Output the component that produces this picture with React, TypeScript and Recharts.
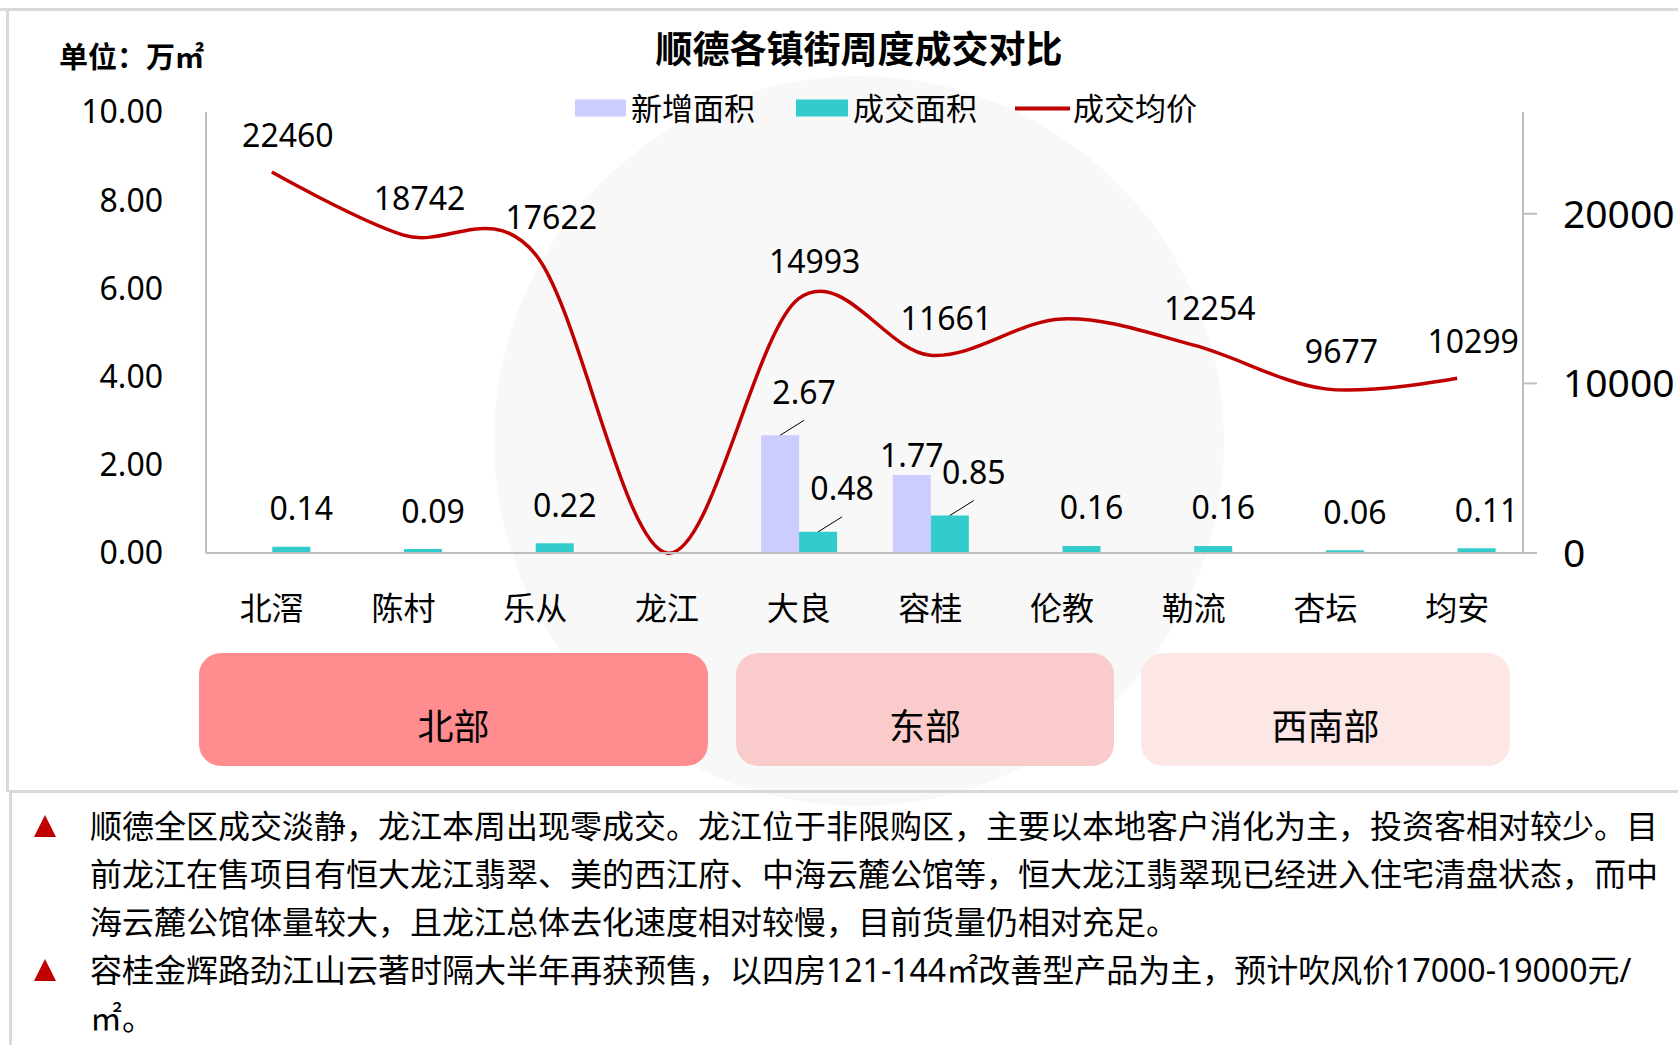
import React from 'react';
import { ComposedChart, Bar, Line, XAxis, YAxis, LabelList } from 'recharts';

const towns = ['北滘', '陈村', '乐从', '龙江', '大良', '容桂', '伦教', '勒流', '杏坛', '均安'];
const newArea = [0, 0, 0, 0, 2.67, 1.77, 0, 0, 0, 0];
const dealArea = [0.14, 0.09, 0.22, 0, 0.48, 0.85, 0.16, 0.16, 0.06, 0.11];
const avgPrice = [22460, 18742, 17622, 0, 14993, 11661, 13800, 12254, 9677, 10299];
const priceLabelled = [true, true, true, false, true, true, false, true, true, true];
const areaTicks = [0, 2, 4, 6, 8, 10];
const priceTicks = [0, 10000, 20000];
const regions = ['北部', '东部', '西南部'];
const notes = [
  [
    '顺德全区成交淡静，龙江本周出现零成交。龙江位于非限购区，主要以本地客户消化为主，投资客相对较少。目',
    '前龙江在售项目有恒大龙江翡翠、美的西江府、中海云麓公馆等，恒大龙江翡翠现已经进入住宅清盘状态，而中',
    '海云麓公馆体量较大，且龙江总体去化速度相对较慢，目前货量仍相对充足。',
  ],
  [
    '容桂金辉路劲江山云著时隔大半年再获预售，以四房121-144㎡改善型产品为主，预计吹风价17000-19000元/',
    '㎡。',
  ],
];

const data = towns.map((name, i) => ({
  name,
  newArea: newArea[i],
  dealArea: dealArea[i],
  price: avgPrice[i],
}));

const FONT = "'Noto Sans', 'Noto Sans CJK SC', sans-serif";

// Excel-style smoothed line (catmull-rom, k = 1/6)
function excelSmooth(context: any) {
  let x0 = NaN, y0 = NaN, x1 = NaN, y1 = NaN, x2 = NaN, y2 = NaN, pt = 0;
  const k = 1 / 6;
  const seg = (x: number, y: number) => {
    context.bezierCurveTo(
      x1 + k * (x2 - x0), y1 + k * (y2 - y0),
      x2 + k * (x1 - x), y2 + k * (y1 - y),
      x2, y2
    );
  };
  return {
    areaStart() {},
    areaEnd() {},
    lineStart() {
      x0 = x1 = x2 = y0 = y1 = y2 = NaN;
      pt = 0;
    },
    lineEnd() {
      if (pt === 2) context.lineTo(x2, y2);
      else if (pt === 3) seg(x1, y1);
    },
    point(x: number, y: number) {
      x = +x; y = +y;
      if (pt === 0) {
        pt = 1;
        context.moveTo(x, y);
      } else if (pt === 1) {
        pt = 2;
        x1 = x; y1 = y;
      } else {
        pt = 3;
        seg(x, y);
      }
      x0 = x1; x1 = x2; x2 = x;
      y0 = y1; y1 = y2; y2 = y;
    },
  };
}

const labelText = { fontSize: 32, fill: '#000', fontFamily: FONT };

function leaderLabel(cx: number, top: number, value: number) {
  return (
    <g>
      <line x1={cx} y1={top} x2={cx + 24} y2={top - 15} stroke="#000" strokeWidth={1} />
      <text x={cx + 24} y={top - 44} textAnchor="middle" dominantBaseline="central" {...labelText}>
        {value.toFixed(2)}
      </text>
    </g>
  );
}

const NewAreaLabel = (props: any) => {
  const { x, y, width, value } = props;
  if (!value) return null;
  const cx = x + width / 2;
  if (value > 2) return leaderLabel(cx, y, value);
  return (
    <text x={cx} y={y - 20} textAnchor="middle" dominantBaseline="central" {...labelText}>
      {value.toFixed(2)}
    </text>
  );
};

const DealAreaLabel = (props: any) => {
  const { x, y, width, value } = props;
  if (!value) return null;
  const cx = x + width / 2;
  if (value > 0.3) return leaderLabel(cx, y, value);
  return (
    <text x={cx + 10} y={y - 39} textAnchor="middle" dominantBaseline="central" {...labelText}>
      {value.toFixed(2)}
    </text>
  );
};

const PriceLabel = (props: any) => {
  const { x, y, value, index } = props;
  if (!priceLabelled[index]) return null;
  return (
    <text x={x + 16} y={y - 38} textAnchor="middle" dominantBaseline="central" {...labelText}>
      {value}
    </text>
  );
};

const TownTick = (props: any) => {
  const { x, y, payload } = props;
  return (
    <text x={x} y={y + 54} textAnchor="middle" dominantBaseline="central" fontSize={32} fill="#000" fontFamily={FONT}>
      {payload.value}
    </text>
  );
};

const regionBoxes = [
  { left: 199, width: 509, color: '#FF8C8E' },
  { left: 736, width: 378, color: '#F9CBCB' },
  { left: 1141, width: 369, color: '#FDE6E6' },
];

export default function App() {
  return (
    <div
      style={{
        position: 'absolute',
        left: 0,
        top: 0,
        width: 1678,
        height: 1045,
        background: '#fff',
        overflow: 'hidden',
        fontFamily: FONT,
        color: '#000',
      }}
    >
      {/* faint watermark */}
      <svg width={1678} height={1045} style={{ position: 'absolute', left: 0, top: 0 }}>
        <circle cx={859} cy={441} r={365} fill="#f8f8f8" />
      </svg>

      {/* frame */}
      <div style={{ position: 'absolute', left: 0, top: 8, width: 1678, height: 3, background: '#d9d9d9' }} />
      <div style={{ position: 'absolute', left: 6, top: 8, width: 3, height: 784, background: '#d9d9d9' }} />
      <div style={{ position: 'absolute', left: 9, top: 790, width: 1669, height: 3, background: '#d9d9d9' }} />
      <div style={{ position: 'absolute', left: 9, top: 790, width: 3, height: 255, background: '#d9d9d9' }} />

      <div
        style={{
          position: 'absolute',
          left: 859,
          top: 48,
          transform: 'translate(-50%, -50%)',
          fontSize: 37,
          fontWeight: 700,
          whiteSpace: 'nowrap',
          lineHeight: 1,
        }}
      >
        顺德各镇街周度成交对比
      </div>
      <div
        style={{
          position: 'absolute',
          left: 59,
          top: 56,
          transform: 'translateY(-50%)',
          fontSize: 29,
          fontWeight: 700,
          whiteSpace: 'nowrap',
          lineHeight: 1,
        }}
      >
        单位：万㎡
      </div>

      {/* legend */}
      <div
        style={{
          position: 'absolute',
          left: 575,
          top: 108,
          transform: 'translateY(-50%)',
          display: 'flex',
          alignItems: 'center',
          fontSize: 31,
          lineHeight: 1,
          whiteSpace: 'nowrap',
        }}
      >
        <span style={{ width: 51, height: 17, background: '#CCCCFF', marginRight: 5 }} />
        <span style={{ marginRight: 41 }}>新增面积</span>
        <span style={{ width: 52, height: 17, background: '#33CCCC', marginRight: 5 }} />
        <span style={{ marginRight: 38 }}>成交面积</span>
        <span style={{ width: 55, height: 4, background: '#C00000', marginRight: 3 }} />
        <span>成交均价</span>
      </div>

      <div style={{ position: 'absolute', left: 0, top: 0 }}>
        <ComposedChart
          width={1678}
          height={640}
          data={data}
          margin={{ top: 112, right: 0, bottom: 0, left: 0 }}
          barGap={0}
          barCategoryGap="21.5%"
        >
          <XAxis
            dataKey="name"
            height={87}
            axisLine={{ stroke: '#bfbfbf', strokeWidth: 2 }}
            tickLine={false}
            tickSize={0}
            tickMargin={0}
            tick={<TownTick />}
            interval={0}
          />
          <YAxis
            yAxisId="area"
            width={206}
            domain={[0, 10]}
            ticks={areaTicks}
            tickFormatter={(v: number) => v.toFixed(2)}
            axisLine={{ stroke: '#bfbfbf', strokeWidth: 2 }}
            tickLine={false}
            tickSize={0}
            tickMargin={43}
            tick={{ fontSize: 32, fill: '#000', fontFamily: FONT }}
          />
          <YAxis
            yAxisId="price"
            orientation="right"
            width={155}
            domain={[0, 26000]}
            ticks={priceTicks}
            axisLine={{ stroke: '#bfbfbf', strokeWidth: 2 }}
            tickLine={{ stroke: '#bfbfbf', strokeWidth: 2 }}
            tickSize={14}
            tickMargin={26}
            tick={{ fontSize: 39, fill: '#000', fontFamily: FONT }}
          />
          <Bar yAxisId="area" dataKey="newArea" fill="#CCCCFF" isAnimationActive={false}>
            <LabelList dataKey="newArea" content={<NewAreaLabel />} />
          </Bar>
          <Bar yAxisId="area" dataKey="dealArea" fill="#33CCCC" isAnimationActive={false}>
            <LabelList dataKey="dealArea" content={<DealAreaLabel />} />
          </Bar>
          <Line
            yAxisId="price"
            dataKey="price"
            type={excelSmooth as any}
            stroke="#C00000"
            strokeWidth={3.5}
            dot={false}
            activeDot={false}
            isAnimationActive={false}
          >
            <LabelList dataKey="price" content={<PriceLabel />} />
          </Line>
        </ComposedChart>
      </div>

      {/* region boxes */}
      {regions.map((r, i) => (
        <div
          key={r}
          style={{
            position: 'absolute',
            left: regionBoxes[i].left,
            top: 653,
            width: regionBoxes[i].width,
            height: 113,
            background: regionBoxes[i].color,
            borderRadius: 22,
            display: 'flex',
            justifyContent: 'center',
            alignItems: 'center',
            paddingTop: 34,
            boxSizing: 'border-box',
            fontSize: 36,
            lineHeight: 1,
          }}
        >
          {r}
        </div>
      ))}

      {/* notes */}
      <div style={{ position: 'absolute', left: 0, top: 802, width: 1678 }}>
        {notes.map((para, i) => (
          <div key={i} style={{ position: 'relative' }}>
            <svg width={22} height={22} style={{ position: 'absolute', left: 34, top: 13 }}>
              <polygon points="11,0 22,22 0,22" fill="#C00000" />
            </svg>
            {para.map((ln, j) => (
              <div
                key={j}
                style={{ marginLeft: 90, fontSize: 32, lineHeight: '48px', height: 48, whiteSpace: 'nowrap' }}
              >
                {ln}
              </div>
            ))}
          </div>
        ))}
      </div>
    </div>
  );
}
